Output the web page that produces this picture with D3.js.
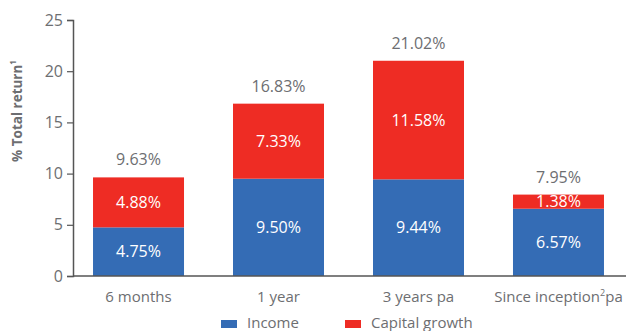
<!DOCTYPE html>
<html>
<head>
<meta charset="utf-8">
<script src="https://cdn.jsdelivr.net/npm/d3@7"></script>
<style>
  html, body { margin: 0; padding: 0; background: #fff; }
  svg text { font-family: "Open Sans", "Noto Sans", sans-serif; }
</style>
</head>
<body>
<svg id="chart" width="626" height="331"></svg>
<script>
// Return components by period
const categories = ["6 months", "1 year", "3 years pa", "Since inception²pa"];
const income = [4.75, 9.50, 9.44, 6.57];
const capitalGrowth = [4.88, 7.33, 11.58, 1.38];
const totals = [9.63, 16.83, 21.02, 7.95];
const yTicks = [0, 5, 10, 15, 20, 25];
const seriesNames = ["Income", "Capital growth"];

const colors = { income: "#346cb5", growth: "#ee2c24", text: "#6d6e71", axis: "#555" };

const svg = d3.select("#chart");
const margin = { left: 73, right: 2, top: 20, bottom: 55 };
const W = 626, H = 331;

const x = d3.scaleBand()
  .domain(categories)
  .range([margin.left, W - margin.right])
  .paddingInner(0.35)
  .paddingOuter(0.143);

const y = d3.scaleLinear().domain([0, 25]).range([276, 20]);

// Y axis
const yAxis = svg.append("g")
  .attr("transform", `translate(${margin.left},0)`)
  .call(d3.axisLeft(y).tickValues(yTicks).tickSize(6).tickPadding(4));
yAxis.select(".domain").attr("stroke", colors.axis).attr("stroke-width", 1.5);
yAxis.selectAll(".tick line").attr("stroke", colors.axis).attr("stroke-width", 1.2);
yAxis.selectAll(".tick text").attr("fill", colors.text).attr("font-size", 16);

// Y axis title
const title = svg.append("text")
  .attr("transform", `translate(22,111) rotate(-90)`)
  .attr("text-anchor", "middle")
  .attr("fill", colors.text)
  .attr("font-size", 13.5)
  .attr("font-weight", "bold");
title.append("tspan").text("% Total return");
title.append("tspan").attr("font-size", 8).attr("dy", -6).text("1");

// Stacked bars
const groups = svg.append("g").selectAll("g")
  .data(categories)
  .join("g");

groups.append("rect")
  .attr("x", d => x(d))
  .attr("width", x.bandwidth())
  .attr("y", (d, i) => y(income[i]))
  .attr("height", (d, i) => y(0) - y(income[i]))
  .attr("fill", colors.income);

groups.append("rect")
  .attr("x", d => x(d))
  .attr("width", x.bandwidth())
  .attr("y", (d, i) => y(income[i] + capitalGrowth[i]))
  .attr("height", (d, i) => y(income[i]) - y(income[i] + capitalGrowth[i]))
  .attr("fill", colors.growth);

const fmt = v => v.toFixed(2) + "%";
const cx = d => x(d) + x.bandwidth() / 2;

// Segment labels
groups.append("text")
  .attr("x", cx)
  .attr("y", (d, i) => y(income[i] / 2))
  .attr("dy", "0.35em")
  .attr("text-anchor", "middle")
  .attr("fill", "#fff")
  .attr("font-size", 16)
  .text((d, i) => fmt(income[i]));

groups.append("text")
  .attr("x", cx)
  .attr("y", (d, i) => y(income[i] + capitalGrowth[i] / 2))
  .attr("dy", "0.35em")
  .attr("text-anchor", "middle")
  .attr("fill", "#fff")
  .attr("font-size", 16)
  .text((d, i) => fmt(capitalGrowth[i]));

// Totals above bars
groups.append("text")
  .attr("x", cx)
  .attr("y", (d, i) => y(income[i] + capitalGrowth[i]) - 12)
  .attr("text-anchor", "middle")
  .attr("fill", colors.text)
  .attr("font-size", 16)
  .text((d, i) => fmt(totals[i]));

// X axis baseline and labels
svg.append("line")
  .attr("x1", margin.left).attr("x2", W)
  .attr("y1", y(0)).attr("y2", y(0))
  .attr("stroke", colors.axis).attr("stroke-width", 1.5);

const xl = svg.append("g").selectAll("text")
  .data(categories)
  .join("text")
  .attr("x", cx)
  .attr("y", 302)
  .attr("text-anchor", "middle")
  .attr("fill", colors.text)
  .attr("font-size", 15);
xl.each(function(d) {
  const t = d3.select(this);
  if (d.includes("²")) {
    const [a, b] = d.split("²");
    t.append("tspan").text(a);
    t.append("tspan").attr("font-size", 9).attr("dy", -6).text("2");
    t.append("tspan").attr("dy", 6).text(b);
  } else {
    t.text(d);
  }
});

// Legend
const legend = svg.append("g");
const legendItems = [
  { name: seriesNames[0], color: colors.income, x: 221 },
  { name: seriesNames[1], color: colors.growth, x: 345 }
];
legendItems.forEach(it => {
  legend.append("rect").attr("x", it.x).attr("y", 320).attr("width", 16).attr("height", 8).attr("fill", it.color);
  legend.append("text").attr("x", it.x + 26).attr("y", 328)
    .attr("fill", colors.text).attr("font-size", 15).text(it.name);
});
</script>
</body>
</html>
